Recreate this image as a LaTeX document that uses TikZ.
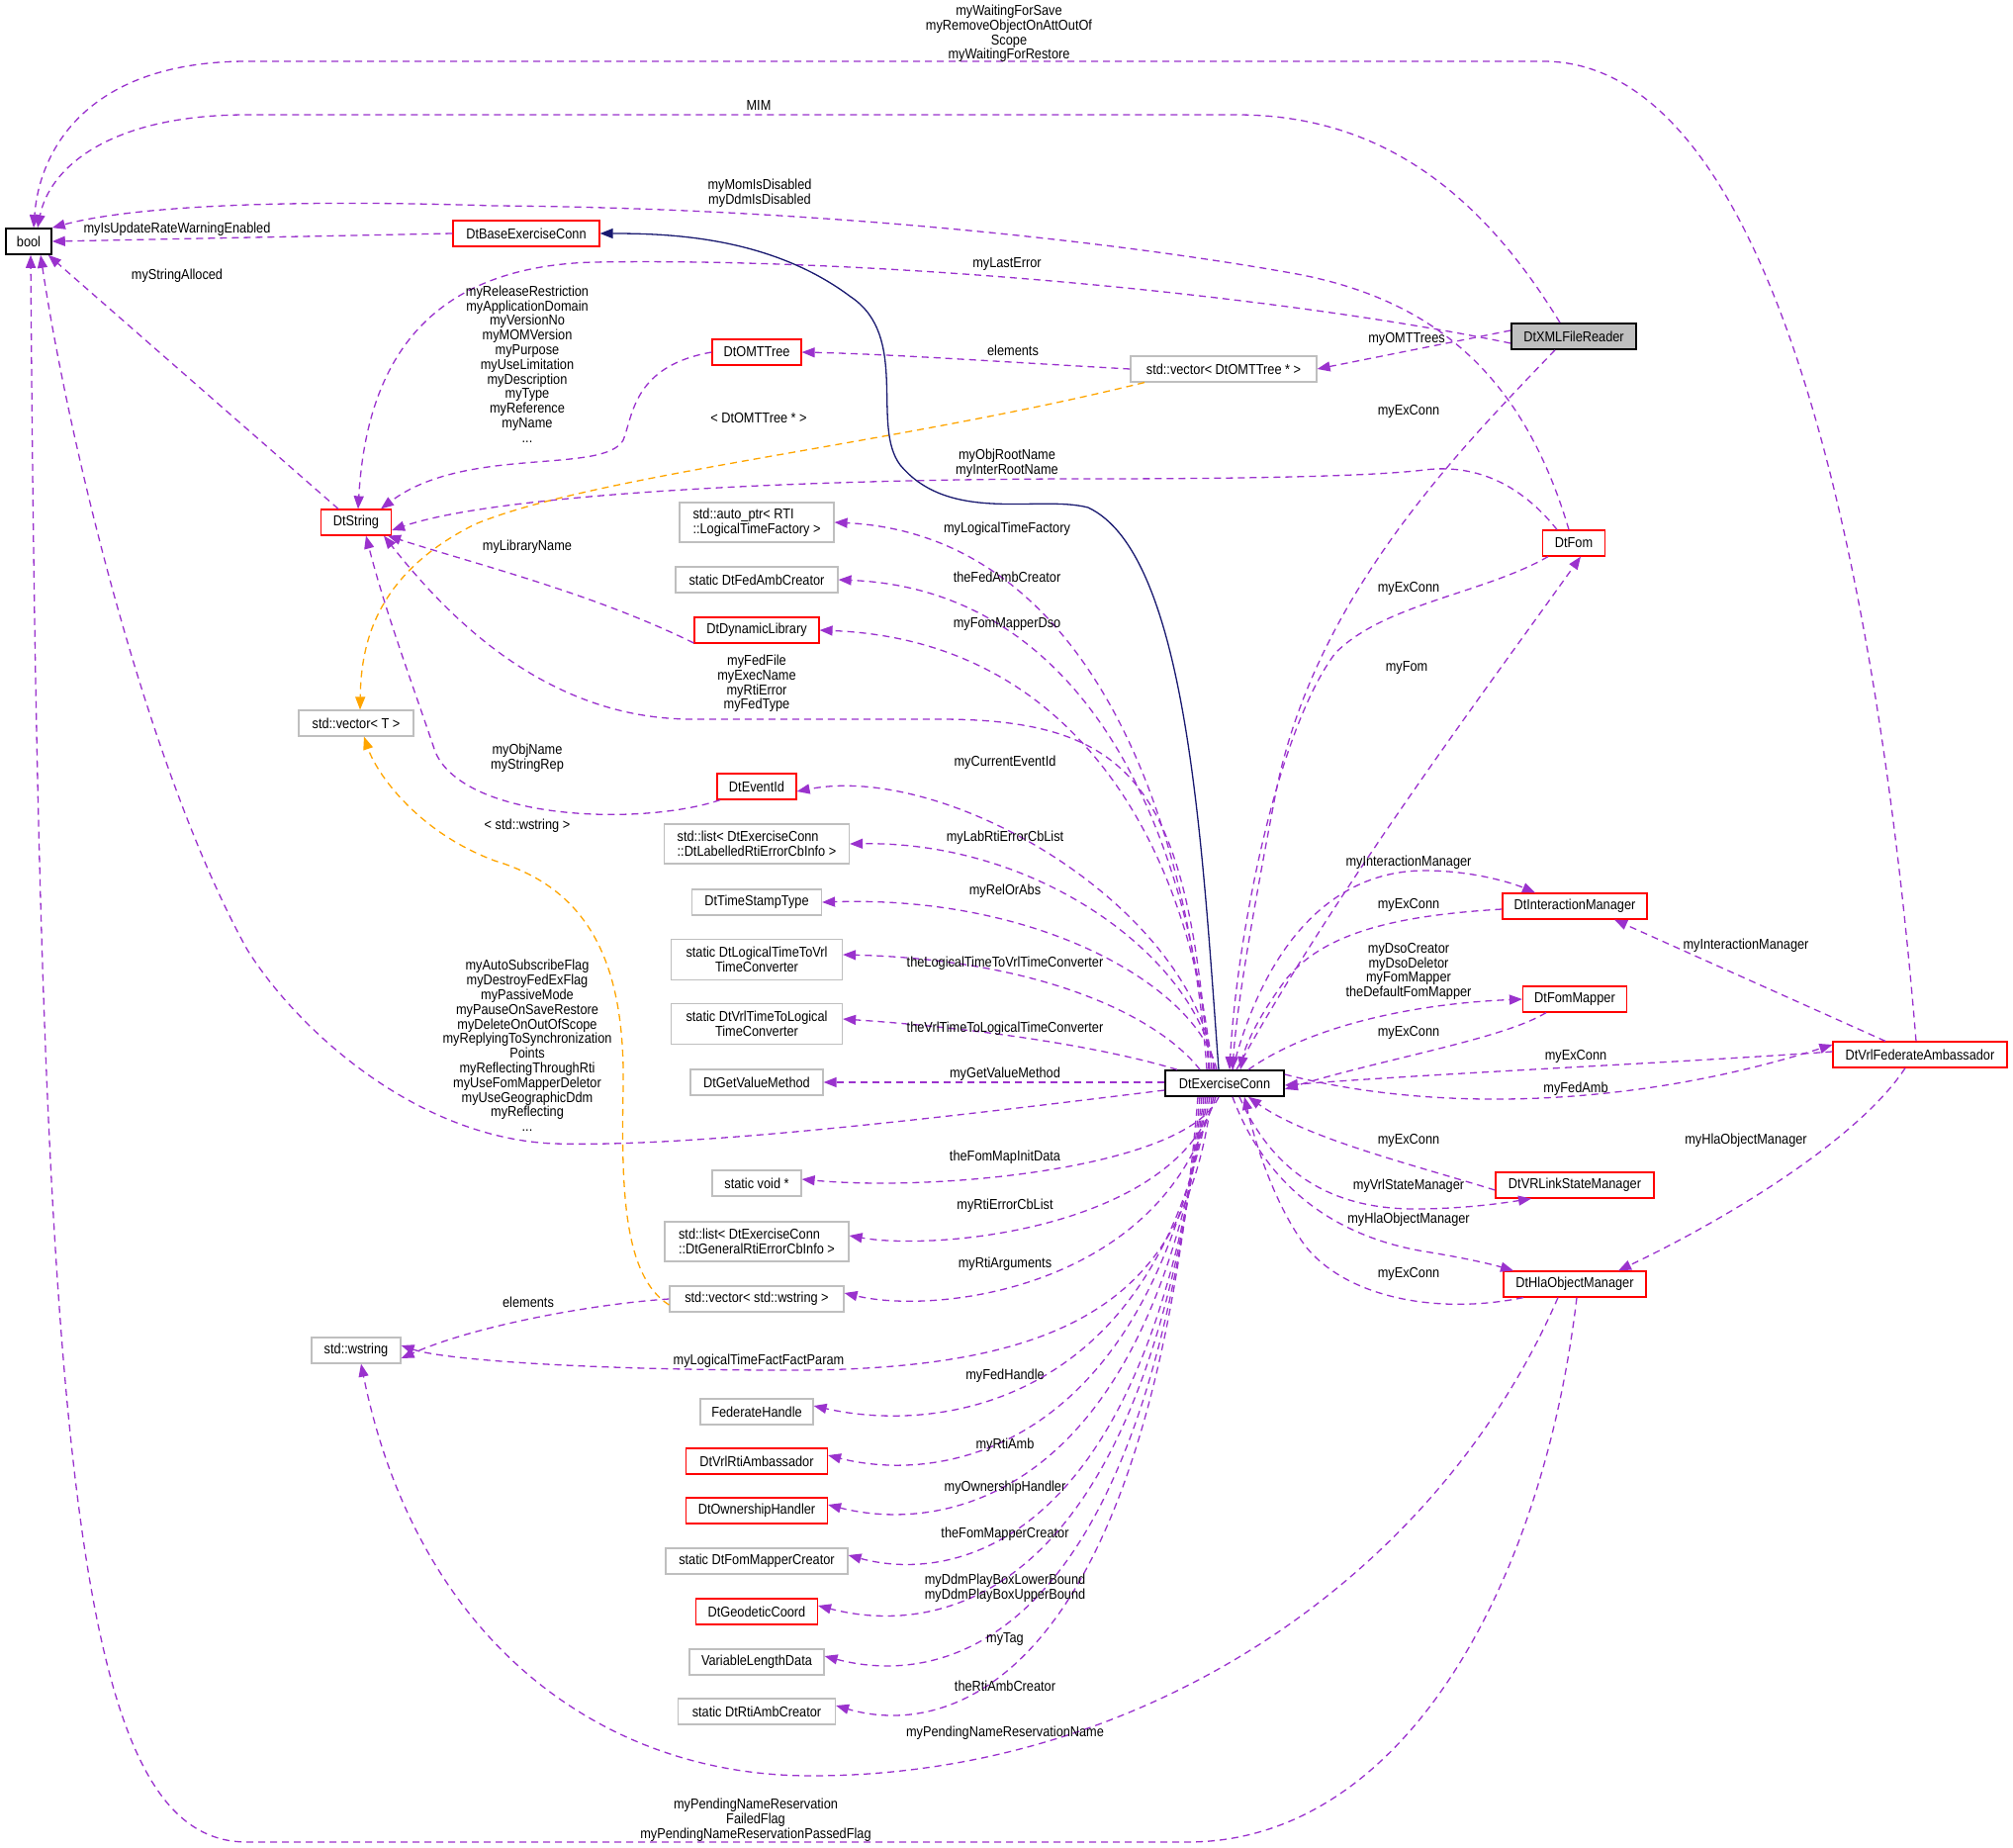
\documentclass[tikz,border=0pt]{standalone}
\usepackage{fontspec}
\setmainfont{Liberation Sans}[FakeStretch=0.88]
\usetikzlibrary{arrows.meta}
\definecolor{purp}{HTML}{9A32CD}
\definecolor{orng}{HTML}{FFA500}
\definecolor{navy}{HTML}{191970}
\definecolor{boxgrey}{HTML}{BFBFBF}
\begin{document}
\begin{tikzpicture}[x=1pt,y=-1pt,font=\fontsize{14.5}{14.8}\selectfont,
 box/.style={draw=#1,line width=1.2pt,minimum height=26pt,inner sep=2pt,fill=white},
 rb/.style={box=red,minimum width=#1},
 gb/.style={box=boxgrey,minimum width=#1},
 kb/.style={box=black,line width=1.6pt,minimum width=#1},
 lab/.style={align=center,inner sep=0pt},
 edge/.style={line width=1.3pt,dash pattern=on 7pt off 5pt,-{Triangle[length=13pt,width=10pt]}},
 use/.style={edge,draw=purp},
 tmpl/.style={edge,draw=orng},
 inh/.style={draw=navy,line width=1.3pt,-{Triangle[length=13pt,width=10pt]}}]
\useasboundingbox (0,0) rectangle (2035,1868);
% nodes
\node[kb=46pt] (bool) at (29,244) {bool};
\node[rb=148pt] (base) at (532,236) {DtBaseExerciseConn};
\node[box=black,line width=1.6pt,fill=boxgrey,minimum width=126pt] (xml) at (1591,340) {DtXMLFileReader};
\node[gb=188pt] (vomt) at (1237,373) {std::vector< DtOMTTree * >};
\node[rb=90pt] (omt) at (765,356) {DtOMTTree};
\node[rb=71pt] (str) at (360,528) {DtString};
\node[rb=63pt] (fom) at (1591,549) {DtFom};
\node[gb=156pt,minimum height=40pt,align=left] (aptr) at (765,528) {std::auto\_ptr< RTI\\::LogicalTimeFactory >};
\node[gb=164pt] (fac) at (765,586) {static DtFedAmbCreator};
\node[rb=126pt] (dyn) at (765,637) {DtDynamicLibrary};
\node[gb=116pt] (vt) at (360,731) {std::vector< T >};
\node[rb=80pt] (evt) at (765,795) {DtEventId};
\node[gb=187pt,minimum height=40pt,align=left] (lab1) at (765,853) {std::list< DtExerciseConn\\::DtLabelledRtiErrorCbInfo >};
\node[gb=131pt] (tst) at (765,912) {DtTimeStampType};
\node[gb=173pt,minimum height=41pt,align=center] (l2v) at (765,970) {static DtLogicalTimeToVrl\\TimeConverter};
\node[gb=173pt,minimum height=41pt,align=center] (v2l) at (765,1035) {static DtVrlTimeToLogical\\TimeConverter};
\node[gb=134pt] (gvm) at (765,1094) {DtGetValueMethod};
\node[gb=90pt] (svoid) at (765,1196) {static void *};
\node[gb=186pt,minimum height=40pt,align=left] (lgen) at (765,1255) {std::list< DtExerciseConn\\::DtGeneralRtiErrorCbInfo >};
\node[gb=176pt] (vws) at (765,1313) {std::vector< std::wstring >};
\node[gb=90pt] (ws) at (360,1365) {std::wstring};
\node[gb=114pt] (fh) at (765,1427) {FederateHandle};
\node[rb=143pt] (rtia) at (765,1477) {DtVrlRtiAmbassador};
\node[rb=143pt] (own) at (765,1527) {DtOwnershipHandler};
\node[gb=184pt] (fmc) at (765,1578) {static DtFomMapperCreator};
\node[rb=123pt] (geo) at (765,1629) {DtGeodeticCoord};
\node[gb=136pt] (vld) at (765,1680) {VariableLengthData};
\node[gb=159pt] (rac) at (765,1730) {static DtRtiAmbCreator};
\node[kb=120pt] (ex) at (1238,1095) {DtExerciseConn};
\node[rb=146pt] (im) at (1592,916) {DtInteractionManager};
\node[rb=105pt] (fm) at (1592,1010) {DtFomMapper};
\node[rb=176pt] (vf) at (1941,1066) {DtVrlFederateAmbassador};
\node[rb=160pt] (vrl) at (1592,1198) {DtVRLinkStateManager};
\node[rb=144pt] (hla) at (1592,1298) {DtHlaObjectManager};
% edges to bool
\draw[use] ([xshift=-4pt]vf.north) .. controls (1900,600) and (1800,62) .. (1560,62) -- (250,62) .. controls (90,62) and (40,150) .. ([xshift=5pt]bool.north);
\draw[use] ([xshift=-14pt]xml.north) .. controls (1500,200) and (1400,116) .. (1250,116) -- (250,116) .. controls (110,116) and (50,170) .. ([xshift=9pt]bool.north);
\draw[use] ([xshift=-5pt]fom.north) .. controls (1540,380) and (1450,300) .. (1300,275) .. controls (1100,240) and (800,210) .. (500,208) .. controls (250,200) and (120,212) .. (bool.north east);
\draw[use] (base.west) -- (bool.east);
\draw[use] ([xshift=-18pt]str.north) -- ([xshift=-4pt]bool.south east);
\draw[use] (ex.west |- 0,1102) .. controls (950,1130) and (700,1160) .. (560,1156) .. controls (420,1150) and (300,1040) .. (250,960) .. controls (150,780) and (70,450) .. ([xshift=12pt]bool.south);
\draw[use] ([xshift=2pt]hla.south) .. controls (1560,1600) and (1420,1862) .. (1200,1862) -- (250,1862) .. controls (80,1862) and (40,1500) .. ([xshift=2pt]bool.south);
% edges to DtString
\draw[use] ([yshift=-7pt]xml.west) .. controls (1300,300) and (900,260) .. (600,265) .. controls (420,270) and (370,380) .. ([xshift=2pt]str.north);
\draw[use] (omt.west) .. controls (640,370) and (640,420) .. (630,445) .. controls (610,480) and (470,450) .. ([xshift=25pt]str.north);
\draw[use] ([xshift=-17pt]fom.north) .. controls (1530,480) and (1480,470) .. (1440,475) .. controls (1400,480) and (1300,484) .. (1100,484) .. controls (800,484) and (500,500) .. ([yshift=-8pt]str.east);
\draw[use] ([yshift=-13pt]dyn.west) .. controls (600,600) and (480,570) .. ([xshift=-4pt]str.south east);
\draw[use] ([xshift=-16pt]ex.north) .. controls (1200,800) and (1150,727) .. (950,727) -- (700,727) .. controls (550,727) and (450,620) .. ([xshift=28pt]str.south);
\draw[use] ([xshift=-37pt]evt.south) .. controls (650,835) and (470,830) .. (440,760) .. controls (420,700) and (390,620) .. ([xshift=10pt]str.south);
% templates
\draw[tmpl] ([xshift=-80pt]vomt.south) .. controls (900,450) and (600,480) .. (480,530) .. controls (380,580) and (365,650) .. ([xshift=4pt]vt.north);
\draw[tmpl] ([yshift=-6pt]vws.west) .. controls (630,1290) and (628,1200) .. (630,1100) .. controls (632,980) and (600,900) .. (500,870) .. controls (420,840) and (380,780) .. ([xshift=8pt]vt.south);
% inheritance
\draw[inh] ([xshift=-6pt]ex.north) .. controls (1215,850) and (1200,560) .. (1100,513) .. controls (1050,500) and (960,530) .. (910,470) .. controls (880,430) and (920,340) .. (860,300) .. controls (780,240) and (680,236) .. (base.east);
% top right
\draw[use] ([yshift=6pt]xml.west) -- (vomt.east);
\draw[use] (vomt.west) .. controls (1000,365) and (900,358) .. (omt.east);
\draw[use] ([xshift=-19pt]xml.south) .. controls (1480,450) and (1330,600) .. (1290,800) .. controls (1265,930) and (1250,1020) .. ([xshift=8pt]ex.north);
\draw[use] ([xshift=12pt]ex.north) .. controls (1350,900) and (1500,700) .. ([xshift=7pt]fom.south);
\draw[use] ([xshift=-26pt]fom.south) .. controls (1500,600) and (1400,610) .. (1350,660) .. controls (1290,740) and (1250,950) .. ([xshift=5pt]ex.north);
% right cluster
\draw[use] ([xshift=8pt]ex.north) .. controls (1280,950) and (1350,880) .. (1440,880) .. controls (1490,880) and (1530,893) .. ([xshift=-40pt]im.north);
\draw[use] ([yshift=-3pt]im.west) .. controls (1420,925) and (1340,940) .. (1300,990) .. controls (1270,1030) and (1258,1060) .. ([xshift=16pt]ex.north);
\draw[use] ([xshift=24pt]ex.north) .. controls (1320,1040) and (1420,1015) .. (fm.west);
\draw[use] ([xshift=-29pt]fm.south) .. controls (1520,1050) and (1400,1070) .. ([yshift=-6pt]ex.east);
\draw[use] ([yshift=3pt]vf.west) .. controls (1700,1074) and (1450,1085) .. ([yshift=-2pt]ex.east);
\draw[use] ([yshift=9pt]ex.east) .. controls (1450,1125) and (1650,1120) .. ([yshift=10pt]vf.west);
\draw[use] ([xshift=-35pt]vf.north) -- ([xshift=40pt]im.south);
\draw[use] ([xshift=-15pt]vf.south) .. controls (1880,1150) and (1750,1230) .. ([xshift=44pt]hla.north);
\draw[use] ([yshift=-5pt]vrl.west) .. controls (1420,1175) and (1320,1150) .. ([xshift=24pt]ex.south);
\draw[use] ([xshift=15pt]ex.south) .. controls (1280,1170) and (1330,1222) .. (1430,1222) .. controls (1480,1222) and (1520,1216) .. ([xshift=-44pt]vrl.south);
\draw[use] ([xshift=8pt]ex.south) .. controls (1280,1200) and (1350,1250) .. (1440,1265) .. controls (1490,1273) and (1515,1280) .. ([xshift=-62pt]hla.north);
\draw[use] ([xshift=-52pt]hla.south) .. controls (1450,1330) and (1360,1310) .. (1320,1260) .. controls (1290,1220) and (1270,1160) .. ([xshift=20pt]ex.south);
% left column from ExConn (above)
\draw[use] ([xshift=-18pt]ex.north) .. controls (1200,805) and (1090,540) .. (aptr.east);
\draw[use] ([xshift=-15pt]ex.north) .. controls (1202,834) and (1095,596) .. (fac.east);
\draw[use] ([xshift=-13pt]ex.north) .. controls (1204,860) and (1090,647) .. (dyn.east);
\draw[use] ([xshift=-11pt]ex.north) .. controls (1210,920) and (960,770) .. ([yshift=-5pt]evt.east);
\draw[use] ([xshift=-10pt]ex.north) .. controls (1210,968) and (1050,850) .. (lab1.east);
\draw[use] ([xshift=-8pt]ex.north) .. controls (1210,997) and (1050,905) .. (tst.east);
\draw[use] ([xshift=-25pt]ex.north) .. controls (1170,1026) and (1050,970) .. ([yshift=5pt]l2v.east);
\draw[use] ([xshift=-48pt]ex.north) .. controls (1120,1060) and (1000,1040) .. ([yshift=5pt]v2l.east);
\draw[use] (ex.west |- 0,1094) -- (gvm.east);
% below
\draw[use] ([xshift=-6pt]ex.south) .. controls (1200,1180) and (950,1205) .. ([yshift=4pt]svoid.east);
\draw[use] ([xshift=-9pt]ex.south) .. controls (1190,1240) and (950,1265) .. ([yshift=6pt]lgen.east);
\draw[use] ([xshift=-11pt]ex.south) .. controls (1180,1300) and (950,1330) .. ([yshift=6pt]vws.east);
\draw[use] (vws.west) .. controls (600,1318) and (480,1340) .. ([yshift=-8pt]ws.east);
\draw[use] ([xshift=-13pt]ex.south) .. controls (1200,1300) and (1100,1385) .. (800,1385) .. controls (600,1385) and (450,1375) .. ([yshift=5pt]ws.east);
\draw[use] ([xshift=-17pt]hla.south) .. controls (1450,1600) and (1150,1795) .. (820,1795) .. controls (600,1795) and (420,1650) .. ([xshift=5pt]ws.south);
\draw[use] ([xshift=-15pt]ex.south) .. controls (1170,1420) and (950,1450) .. ([yshift=6pt]fh.east);
\draw[use] ([xshift=-17pt]ex.south) .. controls (1160,1470) and (950,1500) .. ([yshift=6pt]rtia.east);
\draw[use] ([xshift=-19pt]ex.south) .. controls (1160,1520) and (950,1550) .. ([yshift=6pt]own.east);
\draw[use] ([xshift=-21pt]ex.south) .. controls (1160,1570) and (960,1600) .. ([yshift=6pt]fmc.east);
\draw[use] ([xshift=-23pt]ex.south) .. controls (1160,1620) and (950,1655) .. ([yshift=6pt]geo.east);
\draw[use] ([xshift=-25pt]ex.south) .. controls (1160,1670) and (950,1705) .. ([yshift=6pt]vld.east);
\draw[use] ([xshift=-27pt]ex.south) .. controls (1160,1720) and (950,1755) .. ([yshift=6pt]rac.east);
% labels
\node[lab] (t1) at (1020,34) {myWaitingForSave\\myRemoveObjectOnAttOutOf\\Scope\\myWaitingForRestore};
\node[lab] (t2) at (767,107) {MIM};
\node[lab] (t3) at (768,195) {myMomIsDisabled\\myDdmIsDisabled};
\node[lab] (t4) at (179,232) {myIsUpdateRateWarningEnabled};
\node[lab] (t5) at (179,279) {myStringAlloced};
\node[lab] (t6) at (1018,267) {myLastError};
\node[lab] (t7) at (533,368) {myReleaseRestriction\\myApplicationDomain\\myVersionNo\\myMOMVersion\\myPurpose\\myUseLimitation\\myDescription\\myType\\myReference\\myName\\...};
\node[lab] (t8) at (1024,354) {elements};
\node[lab] (t9) at (1422,343) {myOMTTrees};
\node[lab] (t10) at (767,423) {< DtOMTTree * >};
\node[lab] (t11) at (1018,468) {myObjRootName\\myInterRootName};
\node[lab] (t12) at (1424,416) {myExConn};
\node[lab] (t13) at (1424,595) {myExConn};
\node[lab] (t14) at (1422,675) {myFom};
\node[lab] (t15) at (1018,535) {myLogicalTimeFactory};
\node[lab] (t16) at (1018,583) {theFedAmbCreator};
\node[lab] (t17) at (533,553) {myLibraryName};
\node[lab] (t18) at (1018,631) {myFomMapperDso};
\node[lab] (t19) at (765,691) {myFedFile\\myExecName\\myRtiError\\myFedType};
\node[lab] (t20) at (533,766) {myObjName\\myStringRep};
\node[lab] (t21) at (1016,771) {myCurrentEventId};
\node[lab] (t22) at (533,835) {< std::wstring >};
\node[lab] (t23) at (1016,847) {myLabRtiErrorCbList};
\node[lab] (t24) at (1016,901) {myRelOrAbs};
\node[lab] (t25) at (1016,974) {theLogicalTimeToVrlTimeConverter};
\node[lab] (t26) at (1016,1040) {theVrlTimeToLogicalTimeConverter};
\node[lab] (t27) at (1016,1086) {myGetValueMethod};
\node[lab] (t28) at (533,1057) {myAutoSubscribeFlag\\myDestroyFedExFlag\\myPassiveMode\\myPauseOnSaveRestore\\myDeleteOnOutOfScope\\myReplyingToSynchronization\\Points\\myReflectingThroughRti\\myUseFomMapperDeletor\\myUseGeographicDdm\\myReflecting\\...};
\node[lab] (t29) at (1016,1170) {theFomMapInitData};
\node[lab] (t30) at (1016,1219) {myRtiErrorCbList};
\node[lab] (t31) at (1016,1278) {myRtiArguments};
\node[lab] (t32) at (534,1316) {elements};
\node[lab] (t33) at (767,1376) {myLogicalTimeFactFactParam};
\node[lab] (t34) at (1016,1391) {myFedHandle};
\node[lab] (t35) at (1016,1461) {myRtiAmb};
\node[lab] (t36) at (1016,1504) {myOwnershipHandler};
\node[lab] (t37) at (1016,1551) {theFomMapperCreator};
\node[lab] (t38) at (1016,1605) {myDdmPlayBoxLowerBound\\myDdmPlayBoxUpperBound};
\node[lab] (t39) at (1016,1657) {myTag};
\node[lab] (t40) at (1016,1704) {theRtiAmbCreator};
\node[lab] (t41) at (1016,1752) {myPendingNameReservationName};
\node[lab] (t42) at (764,1840) {myPendingNameReservation\\FailedFlag\\myPendingNameReservationPassedFlag};
\node[lab] (t43) at (1424,872) {myInteractionManager};
\node[lab] (t44) at (1424,915) {myExConn};
\node[lab] (t45) at (1424,982) {myDsoCreator\\myDsoDeletor\\myFomMapper\\theDefaultFomMapper};
\node[lab] (t46) at (1424,1044) {myExConn};
\node[lab] (t47) at (1593,1068) {myExConn};
\node[lab] (t48) at (1593,1101) {myFedAmb};
\node[lab] (t49) at (1765,956) {myInteractionManager};
\node[lab] (t50) at (1765,1153) {myHlaObjectManager};
\node[lab] (t51) at (1424,1153) {myExConn};
\node[lab] (t52) at (1424,1199) {myVrlStateManager};
\node[lab] (t53) at (1424,1233) {myHlaObjectManager};
\node[lab] (t54) at (1424,1288) {myExConn};
\end{tikzpicture}
\end{document}
